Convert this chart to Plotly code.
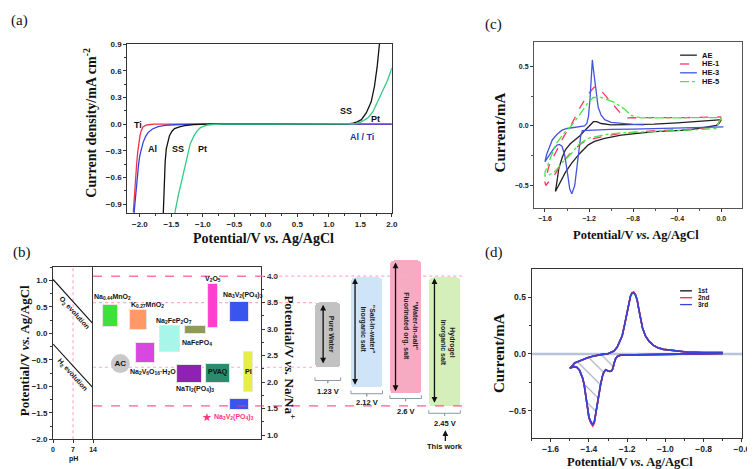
import plotly.graph_objects as go

# ===================== DATA =====================
# (a) LSV of current collectors (Potential V vs Ag/AgCl, current density mA cm-2)
a_ti_x = [-2.104, -2.09, -2.07, -2.052, -2.035, -2.015, -1.998, -1.98, -1.965, -1.948, -1.91, -1.87, -1.77, -1.5, -1.0, -0.5, 0.0, 0.5, 1.0, 1.5, 2.0]
a_ti_y = [-0.99, -0.82, -0.62, -0.46, -0.32, -0.205, -0.13, -0.077, -0.05, -0.029, -0.014, -0.007, 0.0, 0.0, 0.0, 0.0, 0.0, 0.0, 0.0, 0.0, 0.0]
a_al_x = [-2.092, -2.075, -2.055, -2.037, -2.02, -2.0, -1.975, -1.948, -1.91, -1.87, -1.8, -1.71, -1.6, -1.45, -1.14, -0.5, 0.0, 0.5, 1.0, 1.5, 2.0]
a_al_y = [-1.0, -0.86, -0.7, -0.573, -0.45, -0.35, -0.27, -0.205, -0.14, -0.095, -0.055, -0.029, -0.015, -0.007, 0.0, 0.0, 0.0, 0.0, 0.0, 0.0, 0.0]
a_ss_x = [-1.628, -1.622, -1.615, -1.608, -1.598, -1.58, -1.555, -1.53, -1.49, -1.45, -1.37, -1.29, -1.14, -0.93, -0.5, 0.0, 0.5, 1.0, 1.2, 1.3, 1.384, 1.45, 1.516, 1.594, 1.672, 1.723, 1.766, 1.8, 1.81]
a_ss_y = [-1.0, -0.85, -0.7, -0.57, -0.42, -0.275, -0.18, -0.13, -0.08, -0.05, -0.03, -0.018, -0.006, 0.0, 0.0, 0.0, 0.0, 0.0, 0.002, 0.003, 0.01, 0.025, 0.05, 0.125, 0.25, 0.42, 0.64, 0.9, 0.95]
a_pt_x = [-1.445, -1.42, -1.39, -1.35, -1.3, -1.25, -1.2, -1.14, -1.09, -1.04, -0.93, -0.8, -0.67, 0.0, 0.5, 1.0, 1.2, 1.41, 1.5, 1.62, 1.7, 1.775, 1.85, 1.93, 2.0]
a_pt_y = [-1.0, -0.9, -0.8, -0.68, -0.52, -0.35, -0.22, -0.13, -0.075, -0.04, -0.01, -0.003, 0.0, 0.0, 0.0, 0.0, 0.001, 0.004, 0.02, 0.07, 0.14, 0.25, 0.36, 0.49, 0.63]

# (b) water stability window vs pH (V vs Ag/AgCl)
ph_x = [0, 14]
o2_y = [1.02, 0.18]
h2_y = [-0.20, -1.03]

# (b) electrode materials: potential ranges (V vs Ag/AgCl)
mat_names = ['Na<sub>0.44</sub>MnO<sub>2</sub>', 'K<sub>0.27</sub>MnO<sub>2</sub>', 'Na<sub>2</sub>FeP<sub>2</sub>O<sub>7</sub>',
             'NaFePO<sub>4</sub>', 'V<sub>2</sub>O<sub>5</sub>', 'Na<sub>3</sub>V<sub>2</sub>(PO<sub>4</sub>)<sub>3</sub>',
             'Na<sub>2</sub>V<sub>6</sub>O<sub>16</sub>·H<sub>2</sub>O', 'NaTi<sub>2</sub>(PO<sub>4</sub>)<sub>3</sub>', 'PVAQ', 'PI',
             'Na<sub>3</sub>V<sub>2</sub>(PO<sub>4</sub>)<sub>3</sub>']
mat_lo = [0.13, 0.07, -0.36, -0.02, 0.10, 0.22, -0.56, -0.93, -0.93, -1.10, -1.45]
mat_hi = [0.53, 0.45, 0.14, 0.14, 0.93, 0.60, -0.19, -0.60, -0.57, -0.36, -1.23]
ac_name = 'AC'
ac_potential = -0.57

# (b) electrolyte windows (V vs Na/Na+)
win_names = ['Pure Water', '"Salt-in-water"<br>Inorganic salt', '"Water-in-salt"<br>Fluorinated org. salt', 'Hydrogel<br>Inorganic salt']
win_lo = [2.28, 1.90, 1.78, 1.55]
win_hi = [3.50, 3.98, 4.30, 3.98]
win_arrow_lo = [2.32, 1.92, 1.80, 1.58]
win_arrow_hi = [3.46, 3.96, 4.26, 3.96]
win_labels = ['1.23 V', '2.12 V', '2.6 V', '2.45 V']
na_ref_upper = 4.0
na_ref_lower = 1.55
na_dot_upper = 3.5
na_dot_lower = 2.28

# (c) CV curves (V vs Ag/AgCl, mA)
c_ae_x = [0.0, -0.02, -0.044, -0.1, -0.164, -0.313, -0.61, -0.909, -1.058, -1.15, -1.207, -1.28, -1.356, -1.415, -1.475, -1.505, -1.49, -1.475, -1.445, -1.415, -1.37, -1.326, -1.28, -1.236, -1.2, -1.177, -1.16, -1.13, -1.09, -1.0, -0.8, -0.61, -0.4, -0.2, -0.05, 0.0]
c_ae_y = [0.052, 0.02, 0.005, -0.006, -0.014, -0.036, -0.049, -0.077, -0.104, -0.13, -0.159, -0.227, -0.31, -0.39, -0.5, -0.55, -0.46, -0.36, -0.27, -0.2, -0.15, -0.118, -0.08, -0.036, 0.0, 0.025, 0.035, 0.035, 0.02, 0.008, 0.01, 0.015, 0.025, 0.035, 0.048, 0.052]
c_he1_x = [0.0, -0.045, -0.313, -0.61, -0.909, -1.058, -1.207, -1.266, -1.356, -1.445, -1.52, -1.594, -1.6, -1.564, -1.505, -1.43, -1.356, -1.28, -1.207, -1.153, -1.088, -0.998, -0.909, -0.85, -0.61, -0.3, 0.0]
c_he1_y = [0.07, -0.01, -0.03, -0.04, -0.063, -0.085, -0.118, -0.145, -0.214, -0.31, -0.42, -0.5, -0.47, -0.337, -0.227, -0.09, 0.019, 0.156, 0.266, 0.326, 0.293, 0.197, 0.101, 0.068, 0.068, 0.07, 0.075]
c_he3_x = [0.02, -0.2, -0.5, -0.8, -1.0, -1.1, -1.2, -1.26, -1.275, -1.29, -1.31, -1.33, -1.356, -1.375, -1.395, -1.42, -1.445, -1.47, -1.49, -1.52, -1.55, -1.58, -1.6, -1.585, -1.56, -1.534, -1.49, -1.445, -1.4, -1.356, -1.3, -1.27, -1.24, -1.22, -1.205, -1.19, -1.18, -1.17, -1.16, -1.147, -1.13, -1.117, -1.09, -1.058, -1.0, -0.909, -0.8, -0.7]
c_he3_y = [-0.008, -0.015, -0.022, -0.028, -0.03, -0.032, -0.034, -0.04, -0.08, -0.2, -0.37, -0.5, -0.57, -0.53, -0.4, -0.25, -0.17, -0.155, -0.16, -0.19, -0.23, -0.27, -0.3, -0.24, -0.18, -0.118, -0.07, -0.036, -0.022, -0.016, -0.012, -0.008, 0.0, 0.02, 0.08, 0.24, 0.4, 0.553, 0.47, 0.375, 0.25, 0.156, 0.09, 0.052, 0.03, 0.019, 0.012, 0.008]
c_he5_x = [0.0, -0.045, -0.313, -0.61, -0.909, -1.058, -1.207, -1.296, -1.356, -1.445, -1.505, -1.564, -1.6, -1.6, -1.56, -1.505, -1.43, -1.356, -1.28, -1.207, -1.162, -1.088, -0.97, -0.88, -0.82, -0.73, -0.4, 0.0]
c_he5_y = [0.07, -0.022, -0.036, -0.044, -0.058, -0.074, -0.104, -0.159, -0.227, -0.31, -0.378, -0.414, -0.42, -0.39, -0.29, -0.159, -0.063, 0.005, 0.101, 0.197, 0.238, 0.238, 0.197, 0.142, 0.088, 0.068, 0.068, 0.07]
c_names = ['AE', 'HE-1', 'HE-3', 'HE-5']

# (d) three consecutive CV cycles
d_x = [-0.7, -0.8, -0.9, -1.0, -1.1, -1.2, -1.235, -1.25, -1.26, -1.268, -1.275, -1.282, -1.29, -1.3, -1.312, -1.322, -1.33, -1.34, -1.347, -1.355, -1.364, -1.372, -1.38, -1.39, -1.4, -1.408, -1.416, -1.425, -1.433, -1.45, -1.465, -1.476, -1.49, -1.5,
       -1.49, -1.475, -1.459, -1.435, -1.407, -1.38, -1.355, -1.33, -1.304, -1.286, -1.269, -1.252, -1.24, -1.226, -1.213, -1.2, -1.19, -1.183, -1.175, -1.166, -1.157, -1.148, -1.14, -1.131, -1.12, -1.105, -1.085, -1.062, -1.04, -1.01, -0.95, -0.89, -0.8, -0.7]
d_y_1st = [0.005, 0.002, 0.0, -0.001, -0.002, -0.005, -0.011, -0.02, -0.04, -0.08, -0.13, -0.15, -0.155, -0.15, -0.14, -0.16, -0.2, -0.28, -0.356, -0.45, -0.53, -0.6, -0.625, -0.6, -0.557, -0.46, -0.356, -0.27, -0.213, -0.141, -0.115, -0.112, -0.12, -0.126,
           -0.11, -0.08, -0.069, -0.05, -0.034, -0.02, -0.011, -0.004, 0.0, 0.012, 0.025, 0.06, 0.1, 0.16, 0.26, 0.362, 0.44, 0.506, 0.535, 0.54, 0.52, 0.477, 0.4, 0.305, 0.23, 0.16, 0.11, 0.075, 0.055, 0.04, 0.026, 0.017, 0.013, 0.011]
d_y_2nd = [0.005, 0.002, 0.0, -0.001, -0.002, -0.005, -0.011, -0.02, -0.04, -0.08, -0.13, -0.15, -0.155, -0.15, -0.14, -0.16, -0.2, -0.28, -0.356, -0.45, -0.535, -0.61, -0.635, -0.61, -0.565, -0.46, -0.356, -0.27, -0.213, -0.141, -0.115, -0.112, -0.12, -0.126,
           -0.11, -0.08, -0.069, -0.05, -0.034, -0.02, -0.011, -0.004, 0.0, 0.012, 0.025, 0.06, 0.1, 0.16, 0.26, 0.362, 0.44, 0.51, 0.54, 0.545, 0.525, 0.48, 0.4, 0.305, 0.23, 0.16, 0.11, 0.075, 0.055, 0.04, 0.026, 0.017, 0.013, 0.011]
d_y_3rd = [0.005, 0.002, 0.0, -0.001, -0.002, -0.005, -0.011, -0.02, -0.04, -0.08, -0.13, -0.15, -0.155, -0.15, -0.14, -0.16, -0.2, -0.28, -0.356, -0.45, -0.53, -0.6, -0.62, -0.6, -0.555, -0.46, -0.356, -0.27, -0.213, -0.141, -0.115, -0.112, -0.12, -0.126,
           -0.11, -0.08, -0.069, -0.05, -0.034, -0.02, -0.011, -0.004, 0.0, 0.012, 0.025, 0.06, 0.1, 0.16, 0.26, 0.362, 0.44, 0.505, 0.533, 0.538, 0.518, 0.475, 0.4, 0.305, 0.23, 0.16, 0.11, 0.075, 0.055, 0.04, 0.026, 0.017, 0.013, 0.011]
d_names = ['1st', '2nd', '3rd']

# ===================== LAYOUT HELPERS =====================
W, H = 755, 469
def px(x): return x / W
def py(y): return 1 - y / H
def dom_x(a, b): return [a / W, b / W]
def dom_y(top, bottom): return [1 - bottom / H, 1 - top / H]

SANS = "Liberation Sans, Arial, sans-serif"
SERIF = "Liberation Serif, Times New Roman, serif"
INK = '#222222'

anns = []
shapes = []

def text(x, y, s, size=8, family=SANS, bold=True, angle=0, color='#111111', xanchor='center', yanchor='middle', xref='paper', yref='paper'):
    anns.append(dict(x=x, y=y, xref=xref, yref=yref, text=s, showarrow=False, textangle=angle,
                     font=dict(family=family, size=size, color=color, weight='bold' if bold else 'normal'),
                     xanchor=xanchor, yanchor=yanchor))

def axis(**kw):
    d = dict(showline=True, linecolor='#333333', linewidth=1, mirror=True, ticks='outside', ticklen=3,
             tickwidth=1, tickcolor='#333333', showgrid=False, zeroline=False,
             tickfont=dict(family=SANS, size=8, color=INK, weight='bold'))
    d.update(kw)
    return d

fig = go.Figure()

# ===================== (a) =====================
for xs, ys, col in [(a_ti_x, a_ti_y, '#f0304a'), (a_al_x, a_al_y, '#3344dd'),
                    (a_ss_x, a_ss_y, '#111111'), (a_pt_x, a_pt_y, '#2ecc85')]:
    fig.add_trace(go.Scatter(x=xs, y=ys, mode='lines', line=dict(color=col, width=1.3),
                             xaxis='x', yaxis='y', showlegend=False, hoverinfo='skip'))

text(px(130), py(115), 'Ti', size=9)
text(px(145), py(140), 'Al', size=9)
text(px(170), py(140), 'SS', size=9)
text(px(195), py(140), 'Pt', size=9)
text(px(341), py(101), 'SS', size=9)
text(px(371), py(109), 'Pt', size=9)
text(px(357), py(127), 'Al / Ti', size=9, color='#2233aa')
text(px(257), py(231), 'Potential/V <i>vs.</i> Ag/AgCl', size=14, family=SERIF)
text(px(81), py(113), 'Current density/mA cm<sup>-2</sup>', size=14, family=SERIF, angle=-90)
text(px(10), py(9), '(a)', size=15, family=SERIF, bold=False)

# ===================== (b) pH panel =====================
fig.add_trace(go.Scatter(x=ph_x, y=o2_y, mode='lines', line=dict(color='#111111', width=1.1),
                         xaxis='x2', yaxis='y2', showlegend=False, hoverinfo='skip'))
fig.add_trace(go.Scatter(x=ph_x, y=h2_y, mode='lines', line=dict(color='#111111', width=1.1),
                         xaxis='x2', yaxis='y2', showlegend=False, hoverinfo='skip'))
text(px(65.5), py(306.5), 'O<sub>2</sub> evolution', size=7, angle=48)
text(px(63.5), py(370), 'H<sub>2</sub> evolution', size=7, angle=48)
text(px(64), py(456), 'pH', size=7)
shapes.append(dict(type='line', xref='x2', yref='y2', x0=7, x1=7, y0=-2.0, y1=1.254,
                   line=dict(color='#ffaacc', width=1.2, dash='dot'), layer='below'))

# ===================== (b) materials =====================
mat_xc = [102, 130.5, 162.5, 188.5, 206, 233, 137.5, 182.5, 211, 242.5, 233]
mat_w = [16, 17, 21, 21, 10, 20, 19, 25, 24, 9, 20]
mat_col = ['#3ee03a', '#ff9a66', '#a6f7ea', '#8e9a58', '#ff3fd0', '#3a55ee', '#d848e0', '#8f22b5', '#2a8c6c', '#e8ee44', '#3a55ee']
fig.add_trace(go.Bar(x=mat_xc, y=[h - l for l, h in zip(mat_lo, mat_hi)], base=mat_lo, width=mat_w,
                     marker=dict(color=mat_col, line=dict(color='#e6e6e6', width=1)),
                     xaxis='x3', yaxis='y3', showlegend=False, hoverinfo='skip'))
fig.add_trace(go.Scatter(x=[112], y=[ac_potential], mode='markers+text', text=[ac_name],
                         textfont=dict(family=SANS, size=8, color='#111111', weight='bold'),
                         marker=dict(size=19, color='#c9c9c9'),
                         xaxis='x3', yaxis='y3', showlegend=False, hoverinfo='skip'))
mat_lab = [(104, 291), (140, 298.5), (166, 315), (190, 337), (206, 272.5), (236, 289),
           (145, 366.7), (188, 384), (211, 367), (242, 367)]
for (lx, ly), name in zip(mat_lab, mat_names[:10]):
    text(px(lx), py(ly), name, size=7)
text(px(200), py(412.5), '★', size=11, color='#ff3377', bold=False)
text(px(205), py(412.7), mat_names[10], size=7, color='#ff3377', xanchor='left')
fig.add_trace(go.Scatter(x=[None], y=[None], xaxis='x3', yaxis='y4', showlegend=False, hoverinfo='skip'))

text(px(15), py(345), 'Potential/V <i>vs.</i> Ag/AgCl', size=13, family=SERIF, angle=-90)
text(px(284), py(352), 'Potential/V <i>vs.</i> Na/Na<sup>+</sup>', size=13, family=SERIF, angle=90)
text(px(12), py(245), '(b)', size=15, family=SERIF, bold=False)

# reference lines
shapes += [
    dict(type='line', xref='paper', yref='y4', x0=px(84.3), x1=px(255), y0=na_ref_upper, y1=na_ref_upper,
         line=dict(color='#ff3377', width=1, dash='dash')),
    dict(type='line', xref='paper', yref='y4', x0=px(255), x1=px(460), y0=na_ref_upper, y1=na_ref_upper,
         line=dict(color='#ffaacc', width=1.2, dash='dot')),
    dict(type='line', xref='paper', yref='y4', x0=px(84.3), x1=px(460), y0=na_ref_lower, y1=na_ref_lower,
         line=dict(color='#ff3377', width=1, dash='dash')),
    dict(type='line', xref='paper', yref='y4', x0=px(84.3), x1=px(310), y0=na_dot_upper, y1=na_dot_upper,
         line=dict(color='#ffaacc', width=1.2, dash='dot'), layer='below'),
    dict(type='line', xref='paper', yref='y4', x0=px(84.3), x1=px(310), y0=na_dot_lower, y1=na_dot_lower,
         line=dict(color='#ffaacc', width=1.2, dash='dot'), layer='below'),
]

# ===================== (b) electrolyte windows =====================
win_col = ['#c2c2c2', '#cfe5f7', '#f6abc3', '#d4efba']
win_w = [0.66, 0.81, 0.81, 0.81]
win_idx = list(range(len(win_names)))
fig.add_trace(go.Bar(x=win_idx, y=[h - l for l, h in zip(win_lo, win_hi)], base=win_lo, width=win_w,
                     marker=dict(color=win_col, line=dict(width=0), cornerradius=4),
                     xaxis='x5', yaxis='y5', showlegend=False, hoverinfo='skip'))
arrow_dx = [-0.12, -0.3, -0.26, -0.26]
text_dx = [0.1, 0.04, 0.12, 0.08]
text_y = [2.9, 3.0, 3.05, 2.75]
bracket_y = [2.03, 1.78, 1.69, 1.41]
label_y = [1.83, 1.61, 1.44, 1.22]
for i in win_idx:
    xa = i + arrow_dx[i]
    anns.append(dict(x=xa, y=win_arrow_hi[i], ax=xa, ay=win_arrow_lo[i], xref='x5', yref='y5',
                     axref='x5', ayref='y5', text='', showarrow=True, arrowhead=2, startarrowhead=2,
                     arrowside='end+start', arrowsize=0.9, startarrowsize=0.9, arrowwidth=1.3, arrowcolor='#111111'))
    text(i + text_dx[i], text_y[i], win_names[i], size=7, angle=90, xref='x5', yref='y5', color='#222222')
    hw = win_w[i] / 2
    by = bracket_y[i]
    fig.add_trace(go.Scatter(x=[i - hw, i - hw, i, i, i, i + hw, i + hw],
                             y=[by + 0.06, by, by, by - 0.05, by, by, by + 0.06], mode='lines',
                             line=dict(color='#8a9aaa', width=1), xaxis='x5', yaxis='y5',
                             showlegend=False, hoverinfo='skip'))
    text(i, label_y[i], win_labels[i], size=7.5, xref='x5', yref='y5')
anns.append(dict(x=3.02, y=1.09, ax=3.02, ay=0.86, xref='x5', yref='y5', axref='x5', ayref='y5', text='',
                 showarrow=True, arrowhead=2, arrowsize=0.9, arrowwidth=1.3, arrowcolor='#111111'))
text(3.02, 0.78, 'This work', size=7.5, xref='x5', yref='y5')

# ===================== (c) =====================
c_sets = [(c_ae_x, c_ae_y, '#222222', 'solid'), (c_he1_x, c_he1_y, '#ff3366', 'dash'),
          (c_he3_x, c_he3_y, '#4455dd', 'solid'), (c_he5_x, c_he5_y, '#44e844', 'dashdot')]
for xs, ys, col, dash in c_sets:
    fig.add_trace(go.Scatter(x=xs, y=ys, mode='lines', line=dict(color=col, width=1.3, dash=dash),
                             xaxis='x6', yaxis='y6', showlegend=False, hoverinfo='skip'))
for k, (name, (_, _, col, dash)) in enumerate(zip(c_names, c_sets)):
    yy = 44 + 9 * k
    shapes.append(dict(type='line', xref='paper', yref='paper', x0=px(680), x1=px(697), y0=py(yy), y1=py(yy),
                       line=dict(color=col, width=1.3, dash=dash)))
    text(px(700), py(yy), name, size=7.5, xanchor='left')
text(px(635), py(227), 'Potential/V <i>vs.</i> Ag/AgCl', size=12.5, family=SERIF)
text(px(497), py(123), 'Current/mA', size=15, family=SERIF, angle=-90)
text(px(491), py(13), '(c)', size=15, family=SERIF, bold=False)

# ===================== (d) =====================
shapes.append(dict(type='line', xref='x7 domain', yref='y7', x0=0, x1=1, y0=0, y1=0,
                   line=dict(color='#b7c4dc', width=2.5), layer='below'))
hatch = [(x, y) for x, y in zip(d_x, d_y_3rd) if x <= -1.262]
fig.add_trace(go.Scatter(x=[p[0] for p in hatch], y=[p[1] for p in hatch], mode='lines', fill='toself',
                         fillcolor='rgba(0,0,0,0)', line=dict(width=0),
                         fillpattern=dict(shape='\\', fgcolor='#2e3e58', bgcolor='rgba(0,0,0,0)', size=11,
                                          solidity=0.09, fillmode='overlay'),
                         xaxis='x7', yaxis='y7', showlegend=False, hoverinfo='skip'))
d_sets = [(d_y_1st, '#111111'), (d_y_2nd, '#ff2050'), (d_y_3rd, '#3344dd')]
for ys, col in d_sets:
    fig.add_trace(go.Scatter(x=d_x, y=ys, mode='lines', line=dict(color=col, width=1.6),
                             xaxis='x7', yaxis='y7', showlegend=False, hoverinfo='skip'))
for k, (name, (_, col)) in enumerate(zip(d_names, d_sets)):
    yy = 284.3 + 7 * k
    shapes.append(dict(type='line', xref='paper', yref='paper', x0=px(680), x1=px(692), y0=py(yy), y1=py(yy),
                       line=dict(color=col, width=1.3)))
    text(px(696.5), py(yy), name, size=6.5, xanchor='left')
text(px(629), py(459), 'Potential/V <i>vs.</i> Ag/AgCl', size=12.5, family=SERIF)
text(px(497), py(348), 'Current/mA', size=15, family=SERIF, angle=-90)
text(px(491), py(245), '(d)', size=15, family=SERIF, bold=False)

# ===================== AXES =====================
fig.update_layout(
    width=W, height=H, margin=dict(l=0, r=0, t=0, b=0),
    paper_bgcolor='white', plot_bgcolor='rgba(0,0,0,0)', showlegend=False, bargap=0,
    # (a)
    xaxis=axis(domain=dom_x(119, 387.5), anchor='y', range=[-2.2, 2.0], dtick=0.5, tick0=0, tickformat='.1f',
               minor=dict(ticks='outside', ticklen=2, dtick=0.25, tickcolor='#333333'), mirror=True),
    yaxis=axis(domain=dom_y(32.7, 205), anchor='x', range=[-1.0, 0.9], dtick=0.3, tick0=0, tickformat='.1f',
               minor=dict(ticks='outside', ticklen=2, dtick=0.15, tickcolor='#333333')),
    # (b) pH
    xaxis2=axis(domain=dom_x(43.7, 84.3), anchor='y2', range=[0, 14], tickvals=[0, 7, 14],
                tickfont=dict(family=SANS, size=7, color=INK, weight='bold')),
    yaxis2=axis(domain=dom_y(260, 435.7), anchor='x2', range=[-2.0, 1.254], dtick=0.5, tick0=0, tickformat='.1f',
                minor=dict(ticks='outside', ticklen=2, dtick=0.25, tickcolor='#333333'), mirror=False),
    # (b) main
    xaxis3=axis(domain=dom_x(84.3, 255), anchor='y3', range=[84.3, 255], ticks='', showticklabels=False),
    yaxis3=axis(domain=dom_y(260, 435.7), anchor='x3', range=[-2.0, 1.254], ticks='', showticklabels=False),
    yaxis4=axis(overlaying='y3', side='right', anchor='x3', range=[0.919, 4.173], dtick=0.5, tick0=0,
                tickformat='.1f', mirror=False,
                minor=dict(ticks='outside', ticklen=2, dtick=0.25, tickcolor='#333333')),
    # (b) electrolyte windows (hidden axes)
    xaxis5=dict(domain=dom_x(255, 470), anchor='y5', range=[-1.709, 3.734], visible=False),
    yaxis5=dict(domain=dom_y(240, 469), anchor='x5', range=[0.302, 4.543], visible=False),
    # (c)
    xaxis6=axis(domain=dom_x(531.7, 743), anchor='y6', range=[-1.70, 0.19], dtick=0.4, tick0=0, tickformat='.1f',
                linecolor='#555555', tickfont=dict(family=SANS, size=7, color=INK, weight='bold'),
                minor=dict(ticks='outside', ticklen=2, dtick=0.2, tickcolor='#555555')),
    yaxis6=axis(domain=dom_y(31, 200), anchor='x6', range=[-0.69, 0.70], dtick=0.5, tick0=0, tickformat='.1f',
                linecolor='#555555', tickfont=dict(family=SANS, size=7, color=INK, weight='bold'),
                minor=dict(ticks='outside', ticklen=2, dtick=0.25, tickcolor='#555555')),
    # (d)
    xaxis7=axis(domain=dom_x(529.3, 742.7), anchor='y7', range=[-1.70, -0.6], dtick=0.2, tick0=0, tickformat='.1f',
                tickfont=dict(family=SANS, size=8.5, color=INK, weight='bold'),
                minor=dict(ticks='outside', ticklen=2, dtick=0.1, tickcolor='#333333')),
    yaxis7=axis(domain=dom_y(262.3, 434.3), anchor='x7', range=[-0.74, 0.745], dtick=0.5, tick0=0, tickformat='.1f',
                tickfont=dict(family=SANS, size=8.5, color=INK, weight='bold'),
                minor=dict(ticks='outside', ticklen=2, dtick=0.25, tickcolor='#333333')),
    annotations=anns, shapes=shapes,
)

fig.write_html("out.html")
